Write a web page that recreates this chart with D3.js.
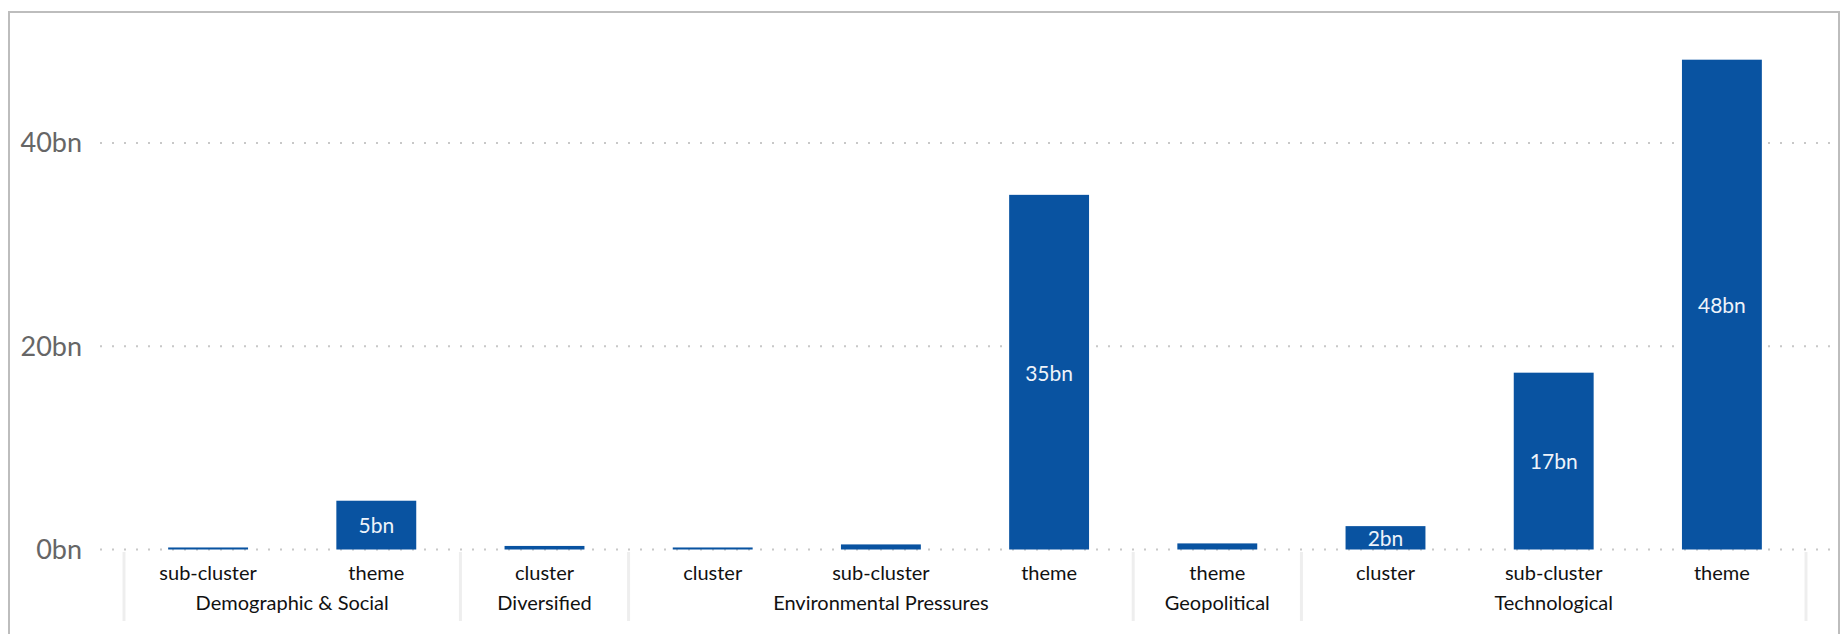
<!DOCTYPE html>
<html>
<head>
<meta charset="utf-8">
<script src="https://cdn.jsdelivr.net/npm/d3@7"></script>
<style>
  body { margin: 0; background: #fff; }
  svg { display: block; font-family: "Source Sans Pro", Lato, sans-serif; }
</style>
</head>
<body>
<div id="vis"></div>
<script>
// data
var groups = ["Demographic & Social", "Demographic & Social", "Diversified",
              "Environmental Pressures", "Environmental Pressures", "Environmental Pressures",
              "Geopolitical", "Technological", "Technological", "Technological"];
var levels = ["sub-cluster", "theme", "cluster", "cluster", "sub-cluster", "theme",
              "theme", "cluster", "sub-cluster", "theme"];
var values = [0.2, 4.8, 0.35, 0.2, 0.5, 34.9, 0.6, 2.3, 17.4, 48.2];
var yTicks = [0, 20, 40];

var width = 1848, height = 634;

var svg = d3.select("#vis").append("svg")
    .attr("width", width)
    .attr("height", height);

// frame
svg.append("rect")
    .attr("x", 9).attr("y", 12)
    .attr("width", 1830).attr("height", 640)
    .attr("fill", "none")
    .attr("stroke", "#bdbdbd")
    .attr("stroke-width", 2);

var x = d3.scaleBand()
    .domain(d3.range(values.length))
    .range([124, 1806])
    .paddingInner(0.525)
    .paddingOuter(0.2625);

var y = d3.scaleLinear()
    .domain([0, 50])
    .range([549.5, 41.4]);

var gap = (x.step() - x.bandwidth()) / 2;

// gridlines
svg.append("g")
  .selectAll("line")
  .data(yTicks)
  .enter().append("line")
    .attr("x1", 100).attr("x2", 1832)
    .attr("y1", function(d) { return y(d); })
    .attr("y2", function(d) { return y(d); })
    .attr("stroke", "#c8c8c8")
    .attr("stroke-width", 2)
    .attr("stroke-dasharray", "2,10");

// y labels
svg.append("g")
  .selectAll("text")
  .data(yTicks)
  .enter().append("text")
    .attr("x", 82)
    .attr("y", function(d) { return y(d); })
    .attr("dy", "0.35em")
    .attr("text-anchor", "end")
    .attr("font-size", 27)
    .attr("fill", "#666")
    .text(function(d) { return d + "bn"; });

// bars
svg.append("g")
  .selectAll("rect")
  .data(values)
  .enter().append("rect")
    .attr("x", function(d, i) { return x(i); })
    .attr("y", function(d) { return y(d); })
    .attr("width", x.bandwidth())
    .attr("height", function(d) { return y(0) - y(d); })
    .attr("fill", "#0953a1");

// value labels inside bars
svg.append("g")
  .selectAll("text")
  .data(values.map(function(v, i) { return {v: v, i: i}; }).filter(function(d) { return d.v >= 1; }))
  .enter().append("text")
    .attr("x", function(d) { return x(d.i) + x.bandwidth() / 2; })
    .attr("y", function(d) { return (y(d.v) + y(0)) / 2 + 1; })
    .attr("dy", "0.35em")
    .attr("text-anchor", "middle")
    .attr("font-size", 21)
    .attr("fill", "#eef3fa")
    .text(function(d) { return Math.round(d.v) + "bn"; });

// group separators
var bounds = [0];
groups.forEach(function(gr, i) { if (i > 0 && gr !== groups[i - 1]) bounds.push(i); });
bounds.push(groups.length);

svg.append("g")
  .selectAll("line")
  .data(bounds)
  .enter().append("line")
    .attr("x1", function(i) { return i < values.length ? x(i) - gap : x(i - 1) + x.bandwidth() + gap; })
    .attr("x2", function(i) { return i < values.length ? x(i) - gap : x(i - 1) + x.bandwidth() + gap; })
    .attr("y1", 552).attr("y2", 621)
    .attr("stroke", "#eeeeee")
    .attr("stroke-width", 3);

// level labels
svg.append("g")
  .selectAll("text")
  .data(levels)
  .enter().append("text")
    .attr("x", function(d, i) { return x(i) + x.bandwidth() / 2; })
    .attr("y", 573)
    .attr("dy", "0.35em")
    .attr("text-anchor", "middle")
    .attr("font-size", 20)
    .attr("fill", "#111")
    .text(function(d) { return d; });

// group labels
var groupSpans = bounds.slice(0, -1).map(function(b, k) {
  return {name: groups[b], start: b, end: bounds[k + 1] - 1};
});

svg.append("g")
  .selectAll("text")
  .data(groupSpans)
  .enter().append("text")
    .attr("x", function(d) { return (x(d.start) + x(d.end) + x.bandwidth()) / 2; })
    .attr("y", 603)
    .attr("dy", "0.35em")
    .attr("text-anchor", "middle")
    .attr("font-size", 20)
    .attr("fill", "#111")
    .text(function(d) { return d.name; });
</script>
</body>
</html>
